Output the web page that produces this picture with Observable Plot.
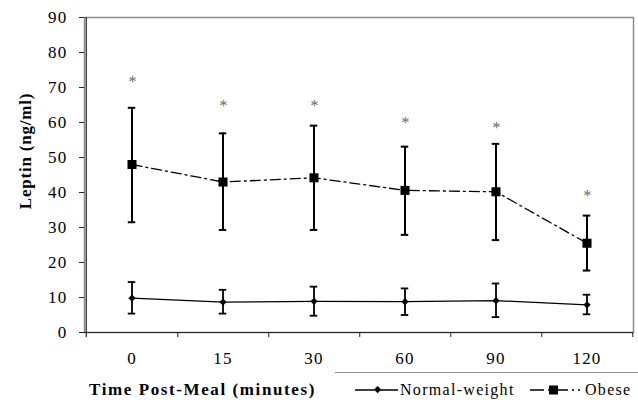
<!DOCTYPE html>
<html>
<head>
<meta charset="utf-8">
<script src="https://cdn.jsdelivr.net/npm/d3@7"></script>
<script src="https://cdn.jsdelivr.net/npm/@observablehq/plot@0.6"></script>
<style>
  html, body { margin: 0; padding: 0; background: #fff; }
  #wrap { position: relative; width: 638px; height: 400px; font-family: 'Liberation Serif', serif; }
  .lab { position: absolute; font-family: 'Liberation Serif', serif; font-size: 16px; line-height: 20px; color: #000; white-space: nowrap; letter-spacing: 1.3px; }
</style>
</head>
<body>
<div id="wrap"></div>
<script>
const categories = ["0", "15", "30", "60", "90", "120"];
const normalMean = [9.8, 8.7, 8.9, 8.8, 9.1, 7.9];
const normalHigh = [14.4, 12.2, 13.1, 12.6, 14.0, 10.8];
const normalLow  = [5.4, 5.4, 4.8, 5.0, 4.4, 5.2];
const obeseMean  = [48.0, 43.0, 44.2, 40.6, 40.2, 25.5];
const obeseHigh  = [64.2, 56.9, 59.1, 53.1, 53.9, 33.4];
const obeseLow   = [31.5, 29.3, 29.3, 27.9, 26.4, 17.7];
const starY      = [72.3, 65.3, 65.3, 60.5, 59.1, 39.6];
const yTicks     = [0, 10, 20, 30, 40, 50, 60, 70, 80, 90];
const seriesNames = ["Normal-weight", "Obese"];
const xTitle = "Time Post-Meal (minutes)";
const yTitle = "Leptin (ng/ml)";

const normal = categories.map((c, i) => ({t: c, m: normalMean[i], hi: normalHigh[i], lo: normalLow[i]}));
const obese  = categories.map((c, i) => ({t: c, m: obeseMean[i], hi: obeseHigh[i], lo: obeseLow[i], star: starY[i]}));

const W = 638, H = 400, mL = 84, mR = 5, mT = 17, mB = 68;
const bw = (W - mL - mR) / categories.length;
const capInset = (bw - 8) / 2;

const chart = Plot.plot({
  width: W, height: H,
  marginLeft: mL, marginRight: mR, marginTop: mT, marginBottom: mB,
  style: {fontFamily: "Liberation Serif", fontSize: "17px", color: "#000", background: "#fff", letterSpacing: "1.2px"},
  x: {type: "band", domain: categories, padding: 0, label: null},
  y: {domain: [0, 90], label: null},
  marks: [
    Plot.frame({stroke: "#8c8c8c", strokeWidth: 1.5}),
    Plot.ruleY([0], {stroke: "#222", strokeWidth: 1.2}),
    Plot.ruleX([categories[0]], {dx: -bw / 2, stroke: "#222", strokeWidth: 1.2, insetBottom: -5}),
    Plot.axisY({ticks: yTicks, tickSize: 5, tickPadding: 12, fontSize: 17, stroke: "#222", label: null}),
    Plot.axisX({tickSize: 0, tickPadding: 19, fontSize: 17, label: null}),
    Plot.axisX(categories, {tickSize: 5, dx: bw / 2, text: null, stroke: "#222", label: null}),
    // error bars
    Plot.ruleX(obese, {x: "t", y1: "lo", y2: "hi", stroke: "#000", strokeWidth: 2}),
    Plot.tickY(obese, {x: "t", y: "hi", stroke: "#000", strokeWidth: 2, insetLeft: capInset, insetRight: capInset}),
    Plot.tickY(obese, {x: "t", y: "lo", stroke: "#000", strokeWidth: 2, insetLeft: capInset, insetRight: capInset}),
    Plot.ruleX(normal, {x: "t", y1: "lo", y2: "hi", stroke: "#000", strokeWidth: 1.8}),
    Plot.tickY(normal, {x: "t", y: "hi", stroke: "#000", strokeWidth: 1.8, insetLeft: capInset, insetRight: capInset}),
    Plot.tickY(normal, {x: "t", y: "lo", stroke: "#000", strokeWidth: 1.8, insetLeft: capInset, insetRight: capInset}),
    // lines
    Plot.line(obese, {x: "t", y: "m", stroke: "#000", strokeWidth: 1.3, strokeDasharray: "10,4,2,4"}),
    Plot.line(normal, {x: "t", y: "m", stroke: "#000", strokeWidth: 1.3}),
    // markers
    Plot.dot(obese, {x: "t", y: "m", symbol: "square", r: 5.1, fill: "#000", stroke: "none"}),
    Plot.dot(normal, {x: "t", y: "m", symbol: "square", r: 2.9, rotate: 45, fill: "#000", stroke: "none"}),
    // significance asterisks
    Plot.text(obese, {x: "t", y: "star", text: () => "*", fill: "#666", fontSize: 16, dy: 2, dx: 1})
  ]
});
const wrap = document.getElementById("wrap");
wrap.appendChild(chart);

// Axis titles
const xt = document.createElement("div");
xt.className = "lab";
xt.style.cssText += "left:89px;top:380px;font-weight:bold;font-size:17px;letter-spacing:1.6px;";
xt.textContent = xTitle;
wrap.appendChild(xt);

const yt = document.createElement("div");
yt.className = "lab";
yt.style.cssText += "left:26px;top:151px;font-weight:bold;font-size:17px;letter-spacing:0.8px;transform:translate(-50%,-50%) rotate(-90deg);";
yt.textContent = yTitle;
wrap.appendChild(yt);

// Legend (below the plot area)
const lg = document.createElement("div");
lg.style.cssText = "position:absolute;left:335px;top:372px;width:303px;height:1px;background:#8c8c8c;";
wrap.appendChild(lg);

const ns = "http://www.w3.org/2000/svg";
const sym = document.createElementNS(ns, "svg");
sym.setAttribute("width", 638); sym.setAttribute("height", 400);
sym.style.cssText = "position:absolute;left:0;top:0;pointer-events:none;";
function el(tag, attrs) { const e = document.createElementNS(ns, tag); for (const k in attrs) e.setAttribute(k, attrs[k]); sym.appendChild(e); return e; }
el("line", {x1: 355, x2: 398, y1: 390, y2: 390, stroke: "#000", "stroke-width": 1.3});
el("rect", {x: 375, y: 387, width: 5.2, height: 5.2, fill: "#000", transform: "rotate(45 377.6 389.6)"});
el("line", {x1: 530, x2: 580, y1: 390, y2: 390, stroke: "#000", "stroke-width": 1.3, "stroke-dasharray": "14,4,2,4"});
el("rect", {x: 549, y: 385.5, width: 9, height: 9, fill: "#000"});
wrap.appendChild(sym);

const l1 = document.createElement("div");
l1.className = "lab";
l1.style.cssText += "left:400px;top:380px;";
l1.textContent = seriesNames[0];
wrap.appendChild(l1);
const l2 = document.createElement("div");
l2.className = "lab";
l2.style.cssText += "left:585px;top:380px;";
l2.textContent = seriesNames[1];
wrap.appendChild(l2);
</script>
</body>
</html>
